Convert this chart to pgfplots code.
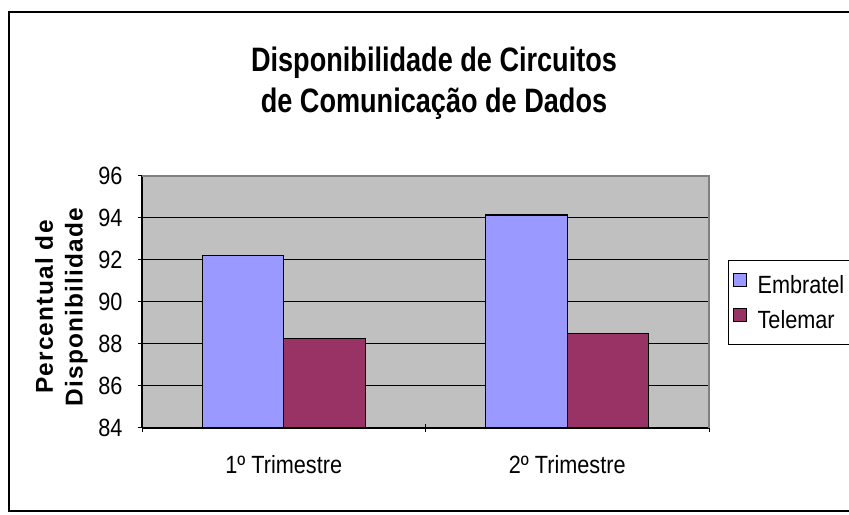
\documentclass[border=0pt]{standalone}
\usepackage{fontspec}
\setmainfont{Liberation Sans}
\newfontfamily\titlefont[FakeStretch=0.8]{Liberation Sans}
\newfontfamily\tickfont[FakeStretch=0.87]{Liberation Sans}
\newfontfamily\ylabfont[LetterSpace=5]{Liberation Sans}
\usepackage{pgfplots}
\pgfplotsset{compat=1.18}
\definecolor{embr}{HTML}{9999FF}
\definecolor{tele}{HTML}{993366}
\definecolor{plotbg}{HTML}{C0C0C0}
\definecolor{frameg}{HTML}{808080}
\begin{document}
\begin{tikzpicture}[x=1bp,y=1bp]
\useasboundingbox (0,0) rectangle (849,515);
\draw[line width=2bp] (9,4) rectangle (870,503);
\begin{axis}[
  at={(142bp,87bp)}, anchor=south west,
  scale only axis, width=567bp, height=252bp,
  ybar=0pt, bar width=81.5bp,
  xmin=-0.5, xmax=1.5, ymin=84, ymax=96,
  ytick={84,86,...,96},
  xtick={0,1}, xticklabels={1º Trimestre, 2º Trimestre},
  minor xtick={-0.5,0.5,1.5},
  major x tick style={draw=none},
  tick align=outside,
  major tick length=8bp, minor tick length=8bp,
  tick style={black, line width=1bp},
  axis lines=left,
  axis line style={-, black, line width=1.2bp},
  axis background/.style={fill=plotbg},
  ymajorgrids, major grid style={black, line width=1bp},
  /pgf/number format/assume math mode=true,
  tick label style={font=\tickfont\fontsize{25}{28}\selectfont},
  yticklabel style={xshift=-12bp},
  xticklabel style={yshift=-20bp},
  title={Disponibilidade de Circuitos\\de Comunicação de Dados},
  title style={at={(axis description cs:0.515,1.345)}, anchor=center, align=center,
    font=\titlefont\fontsize{34}{41}\selectfont\bfseries},
  ylabel={Percentual de\\Disponibilidade},
  ylabel style={at={(axis description cs:-0.142,0.48)}, anchor=center, align=center,
    font=\ylabfont\fontsize{24.5}{30}\selectfont\bfseries},
  legend style={at={(axis description cs:1.0335,0.6667)}, anchor=north west,
    draw=black, line width=1.2bp, fill=white,
    font=\tickfont\fontsize{25}{28}\selectfont,
    inner xsep=4bp, inner ysep=12bp, row sep=11bp,
    /tikz/every odd column/.append style={column sep=9bp}},
  legend cell align=left,
  legend image code/.code={\draw[#1, draw=black, line width=1bp] (0bp,-1bp) rectangle (13bp,12bp);},
  after end axis/.code={\draw[frameg, line width=1.2bp] (rel axis cs:0,1) -- (rel axis cs:1,1) -- (rel axis cs:1,0);},
]
\addplot[fill=embr, draw=black, line width=1.4bp] coordinates {(0,92.2) (1,94.15)};
\addplot[fill=tele, draw=black, line width=1.4bp] coordinates {(0,88.25) (1,88.5)};
\legend{Embratel, Telemar}
\end{axis}
\end{tikzpicture}
\end{document}
